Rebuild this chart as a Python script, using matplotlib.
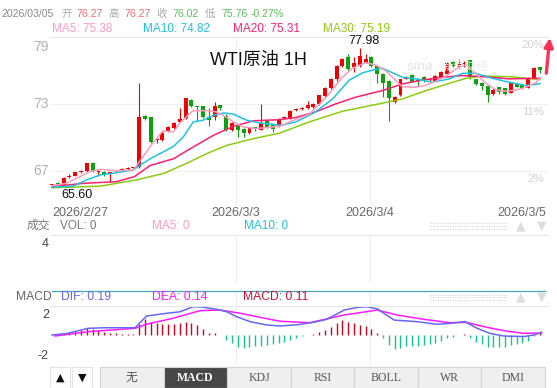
import numpy as np
import matplotlib
matplotlib.use("Agg")
import matplotlib.pyplot as plt
from matplotlib.patches import Rectangle, FancyArrowPatch
from matplotlib.lines import Line2D

W = 557
H = 388

# hourly candles, WTI 1H (open, high, low, close)
opens = [65.78, 65.90, 65.75, 66.45, 66.60, 66.92, 67.00, 67.75, 66.90, 66.95,
         66.80, 66.98, 67.10, 67.18, 67.25, 67.35, 71.95, 71.80, 69.75, 69.80,
         70.55, 70.85, 71.40, 71.75, 73.40, 72.82, 72.80, 71.80, 71.80, 72.90,
         71.90, 70.70, 71.10, 70.80, 70.40, 70.90, 70.70, 71.50, 71.10, 71.00,
         71.75, 71.70, 72.45, 72.55, 72.60, 72.70, 73.00, 73.70, 74.40, 75.20,
         76.40, 77.20, 76.30, 76.40, 76.70, 77.20, 76.40, 75.70, 75.10, 73.20,
         73.80, 75.25, 75.60, 75.15, 75.40, 75.15, 75.10, 75.40, 75.70, 76.80,
         76.30, 76.60, 76.90, 75.20, 74.90, 74.60, 73.90, 74.50, 74.40, 74.00,
         74.80, 74.70, 74.45, 75.30, 76.27]
highs = [65.85, 65.98, 66.45, 66.70, 66.95, 67.05, 67.75, 67.80, 67.05, 67.00,
         66.95, 67.08, 67.25, 67.35, 67.40, 74.90, 72.00, 71.85, 70.00, 70.60,
         71.00, 71.40, 72.60, 73.55, 73.45, 72.85, 72.85, 72.60, 73.20, 72.95,
         72.10, 71.40, 71.15, 70.85, 70.95, 70.95, 73.00, 71.55, 71.15, 71.75,
         71.90, 72.45, 72.60, 72.70, 73.30, 73.05, 73.85, 74.50, 75.30, 76.50,
         77.10, 77.50, 77.20, 77.98, 77.50, 77.30, 76.45, 75.75, 75.15, 73.70,
         75.25, 75.50, 75.70, 75.30, 75.50, 75.30, 75.60, 76.00, 76.75, 76.85,
         77.00, 76.85, 76.95, 75.25, 74.95, 74.65, 74.40, 74.55, 74.45, 74.90,
         74.85, 74.75, 75.40, 76.30, 76.27]
lows = [65.75, 65.72, 65.60, 66.35, 66.55, 66.85, 66.95, 66.95, 66.60, 66.55,
        66.05, 66.90, 67.05, 67.12, 67.20, 67.30, 71.60, 69.50, 69.50, 69.70,
        70.50, 70.80, 71.35, 71.70, 72.75, 71.50, 71.75, 71.00, 71.60, 72.50,
        70.60, 70.60, 70.05, 70.05, 70.30, 70.60, 70.65, 70.85, 70.50, 70.95,
        71.70, 71.65, 72.40, 72.50, 72.55, 72.65, 72.95, 73.65, 74.35, 75.10,
        76.35, 76.00, 75.90, 76.35, 76.65, 76.35, 74.90, 73.60, 71.50, 73.10,
        73.70, 75.20, 74.95, 74.60, 75.00, 75.10, 75.05, 75.35, 75.65, 76.35,
        76.25, 76.30, 75.20, 74.70, 74.30, 73.20, 73.85, 73.90, 73.85, 73.95,
        74.50, 74.35, 74.40, 75.25, 75.76]
closes = [65.82, 65.78, 66.35, 66.55, 66.90, 67.00, 67.70, 67.00, 66.98, 66.65,
          66.88, 67.03, 67.17, 67.25, 67.32, 71.80, 71.70, 69.60, 69.90, 70.40,
          70.90, 71.30, 71.70, 73.50, 72.80, 72.75, 71.80, 71.60, 72.80, 72.60,
          70.70, 71.30, 70.70, 70.40, 70.90, 70.72, 71.30, 70.90, 70.80, 71.70,
          71.82, 72.40, 72.52, 72.62, 72.90, 73.00, 73.80, 74.40, 75.20, 76.40,
          77.00, 76.10, 76.70, 77.30, 77.00, 76.40, 75.70, 74.90, 73.50, 73.60,
          75.20, 75.35, 75.00, 75.05, 75.10, 75.22, 75.50, 75.90, 76.70, 76.40,
          76.60, 76.70, 75.40, 74.80, 74.60, 73.80, 74.30, 74.10, 73.90, 74.85,
          74.55, 74.45, 75.35, 76.20, 76.02]

# moving average lines (candle index, price)
ma5Idx = [0, 2.5, 4.8, 6.5, 8.3, 11.1, 14, 15.7, 16.9, 18, 19.1, 20.9, 22, 23.2, 24.3,
          26.6, 28.3, 30.1, 31.2, 32.9, 35.2, 36.9, 39.2, 40.9, 44.3, 47.2, 50, 51.7,
          54, 55.7, 57.4, 59.1, 60.3, 62, 63.8, 65.5, 67.8, 70.1, 71.3, 73, 74.7, 76.5,
          78.2, 79.9, 81.6, 83.4, 84]
ma5Val = [65.7, 65.9, 66.5, 66.95, 67.15, 67.03, 67.1, 68.3, 69.2, 69.9, 70.6, 70.5,
          71.3, 71.9, 72.4, 72.4, 72.3, 71.8, 71.4, 70.95, 70.8, 70.9, 71.0, 71.4, 72.1,
          73.6, 75.4, 76.2, 76.7, 76.5, 76.0, 75.15, 74.55, 74.5, 74.6, 74.9, 75.5, 76.3,
          76.5, 75.7, 74.85, 74.25, 74.15, 74.25, 74.5, 74.95, 75.38]
ma10Idx = [0, 3.6, 5.9, 8.3, 11.1, 14, 15.1, 16.9, 19.1, 20.9, 22.6, 24.3, 26, 27.8,
           29.6, 31.2, 33.5, 35.8, 39.5, 42, 45.4, 48.3, 51.2, 53.5, 55.7, 56.9, 58.6,
           60.3, 62.6, 65.5, 68.4, 70.7, 73, 75.8, 78.7, 81.6, 84]
ma10Val = [65.55, 65.65, 66.2, 66.65, 66.85, 67.1, 67.5, 68.1, 68.7, 69.2, 70.05, 71.4,
           71.55, 72.0, 72.2, 72.1, 71.55, 71.3, 71.1, 71.4, 72.3, 73.45, 75.15, 75.8,
           76.1, 76.2, 75.8, 75.4, 75.25, 74.95, 75.25, 75.75, 75.75, 75.3, 74.95, 74.65,
           74.82]
ma20Idx = [0, 5.4, 11.1, 14.2, 16.9, 20.9, 24.3, 27.8, 31.2, 34.7, 39.2, 42, 45.4, 48.8,
           52.2, 54.5, 56.9, 60.3, 63.8, 67.3, 70.7, 74.2, 78.7, 84]
ma20Val = [65.6, 65.9, 66.05, 66.5, 67.5, 68.1, 69.15, 70.2, 71.0, 71.5, 71.6, 71.8, 72.3,
           73.0, 73.6, 73.9, 74.2, 74.8, 75.15, 75.4, 75.55, 75.45, 75.25, 75.31]
ma30Idx = [0, 8.3, 14.5, 19.3, 23.2, 26.6, 30.1, 34.7, 39.2, 44.3, 50, 55.7, 60.3, 64.4,
           68.4, 71.3, 74.2, 78.7, 84]
ma30Val = [65.5, 65.65, 66.2, 66.8, 67.7, 68.55, 69.3, 69.9, 70.4, 71.4, 72.35, 72.95,
           73.45, 74.2, 74.85, 75.3, 75.5, 75.45, 75.19]

# MACD panel
macdHist = [0.02, 0.05, 0.11, 0.18, 0.30, 0.34, 0.46, 0.39, 0.34, 0.23,
            0.16, 0.11, 0.07, 0.07, 0.07, 0.76, 1.10, 0.92, 0.80, 0.74,
            0.74, 0.74, 0.80, 0.87, 0.85, 0.69, 0.39, 0.16, 0.11, 0.02,
            -0.34, -0.57, -0.80, -0.87, -0.80, -0.76, -0.76, -0.69, -0.65, -0.57,
            -0.46, -0.34, -0.18, -0.07, 0.02, 0.07, 0.18, 0.34, 0.57, 0.85,
            1.03, 0.92, 0.80, 0.69, 0.64, 0.39, 0.11, -0.23, -0.69, -0.99,
            -0.87, -0.76, -0.76, -0.76, -0.71, -0.64, -0.53, -0.41, -0.23, -0.11,
            -0.02, 0.07, -0.23, -0.46, -0.62, -0.80, -0.85, -0.85, -0.80, -0.69,
            -0.62, -0.57, -0.39, -0.05, 0.11]
difIdx = [0, 2.6, 6.2, 9, 14.3, 15.5, 16.3, 19.8, 22, 24.3, 26, 28.4, 30.1, 31.8, 34.1,
          37, 39.2, 42, 45, 47.3, 50.3, 52.5, 54.2, 56, 58.9, 62.8, 66.3, 68.5, 71.1,
          73.2, 75.4, 77.8, 81.2, 83, 84.3]
difVal = [0.0, 0.11, 0.46, 0.5, 0.5, 1.0, 1.31, 1.5, 1.6, 1.95, 1.92, 1.77, 1.6, 1.26,
          0.92, 0.69, 0.62, 0.7, 0.87, 1.08, 1.72, 1.9, 1.95, 1.8, 1.03, 0.92, 0.74, 0.8,
          0.92, 0.46, 0.11, -0.07, -0.11, 0.0, 0.19]
deaIdx = [0.5, 6.2, 14.3, 16.3, 20.8, 25.5, 28.9, 32.4, 35.8, 39.2, 44.4, 50.3, 56, 59.4,
          64, 68.5, 71.4, 74.4, 77.8, 81.2, 84.3]
deaVal = [-0.07, 0.23, 0.46, 0.75, 1.15, 1.68, 1.72, 1.5, 1.22, 0.95, 0.85, 1.38, 1.72,
          1.38, 1.08, 0.85, 0.87, 0.57, 0.3, 0.11, 0.14]

dateLabels = ['2026/2/27', '2026/3/3', '2026/3/4', '2026/3/5']
dateIdx = [0, 31.7, 54.7, 85.0]
priceTicks = [79, 73, 67]
pctLabels = ['20%', '11%', '2%']
tabNames = ['无', 'MACD', 'KDJ', 'RSI', 'BOLL', 'WR', 'DMI']

RED = '#f00000'
GREEN = '#0ba20b'
C_MA5 = '#ff9bbb'
C_MA10 = '#1ec3e2'
C_MA20 = '#ff1f70'
C_MA30 = '#8dcc12'


def fx(x):
  return x / W


def fy(y):
  return 1 - y / H


def axRect(left, top, right, bottom):
  return [fx(left), fy(bottom), (right - left) / W, (bottom - top) / H]


def put(fig, x, y, s, color, size, **kw):
  kw.setdefault('va', 'center')
  fig.text(fx(x), fy(y), s, color=color, fontsize=size, **kw)


def hline(fig, x0, x1, y, color, lw=0.8, ls='-'):
  fig.add_artist(Line2D([fx(x0), fx(x1)], [fy(y), fy(y)], color=color, lw=lw, ls=ls,
                        transform=fig.transFigure))


def main():
  plt.rcParams['font.family'] = ['Liberation Sans', 'Noto Sans CJK SC', 'DejaVu Sans']
  fig = plt.figure(figsize=(W / 100, H / 100), dpi=100)
  fig.patch.set_facecolor('white')

  x = np.arange(len(closes))
  o = np.array(opens)
  c = np.array(closes)
  cols = [RED if c[i] >= o[i] else GREEN for i in range(len(c))]
  xlim = (-0.35, 85.4)

  # ---- price panel
  ax = fig.add_axes(axRect(50, 37, 548, 205))
  ax.set_xlim(*xlim)
  ax.set_ylim(63.96, 79)
  for s in ['left', 'right', 'bottom']:
    ax.spines[s].set_visible(False)
  ax.spines['top'].set_color('#e6e6e6')
  ax.spines['top'].set_linewidth(0.8)
  ax.set_xticks([])
  ax.set_yticks([])
  for p in priceTicks[1:]:
    ax.axhline(p, color='#f0f0f0', lw=0.8, zorder=0)
  for d in dateIdx[1:3]:
    ax.axvline(d, color='#eeeeee', lw=0.8, zorder=0)

  ax.vlines(x, lows, highs, colors=cols, lw=0.8, zorder=2)
  body = np.maximum(np.abs(c - o), 0.09)
  ax.bar(x, body, bottom=np.minimum(o, c), width=0.68, color=cols, lw=0, zorder=3)

  ax.plot(ma30Idx, ma30Val, color=C_MA30, lw=1.1, zorder=4)
  ax.plot(ma20Idx, ma20Val, color=C_MA20, lw=1.1, zorder=4)
  ax.plot(ma10Idx, ma10Val, color=C_MA10, lw=1.1, zorder=4)
  ax.plot(ma5Idx, ma5Val, color=C_MA5, lw=1.1, zorder=4)

  for p, lab in zip(priceTicks, pctLabels):
    va = 'top' if p == priceTicks[0] else 'center'
    ax.annotate(str(p), xy=(0, p), xycoords=('axes fraction', 'data'), xytext=(-1, -3 if va == 'top' else 0),
                textcoords='offset pixels', ha='right', va=va, color='#b0b0b0', fontsize=10)
    ax.annotate(lab, xy=(1, p), xycoords=('axes fraction', 'data'), xytext=(-4, -3),
                textcoords='offset pixels', ha='right', va='top', color='#d2d2d2', fontsize=8.2)

  lowI = int(np.argmin(lows))
  highI = int(np.argmax(highs))
  ax.annotate('%.2f' % lows[lowI], xy=(lowI, lows[lowI]), xytext=(-2, -2), textcoords='offset pixels',
              ha='left', va='top', fontsize=9, color='#111111')
  ax.annotate('%.2f' % highs[highI], xy=(highI, highs[highI]), xytext=(4, 1), textcoords='offset pixels',
              ha='center', va='bottom', fontsize=9, color='#111111', annotation_clip=False)

  has = ['left', 'center', 'center', 'right']
  for d, lab, ha in zip(dateIdx, dateLabels, has):
    ax.annotate(lab, xy=(d, 0), xycoords=('data', 'axes fraction'), xytext=(0, -8),
                textcoords='offset pixels', ha=ha, va='center', fontsize=9, color='#666666',
                annotation_clip=False)

  # watermark + title
  put(fig, 407, 67, 'sina', '#e9e9e9', 9.5, fontweight='bold', style='italic')
  put(fig, 442, 67, '新浪财经', '#ececec', 8.5)
  put(fig, 258, 60, 'WTI原油 1H', '#111111', 13, ha='center')

  # ---- volume panel
  axv = fig.add_axes(axRect(50, 235, 548, 283))
  axv.set_xlim(*xlim)
  axv.set_ylim(0, 4)
  for s in ['left', 'right', 'bottom']:
    axv.spines[s].set_visible(False)
  axv.spines['top'].set_color('#e6e6e6')
  axv.set_xticks([])
  axv.set_yticks([])
  for d in dateIdx[1:3]:
    axv.axvline(d, color='#eeeeee', lw=0.8)
  axv.annotate('4', xy=(0, 4), xycoords=('axes fraction', 'data'), xytext=(-1, -3),
               textcoords='offset pixels', ha='right', va='top', fontsize=9, color='#444444')

  # ---- MACD panel
  axm = fig.add_axes(axRect(50, 306, 548, 364))
  axm.set_xlim(*xlim)
  axm.set_ylim(-2, 2)
  for s in ['left', 'right', 'bottom']:
    axm.spines[s].set_visible(False)
  axm.spines['top'].set_color('#e6e6e6')
  axm.set_xticks([])
  axm.set_yticks([])
  for d in dateIdx[1:3]:
    axm.axvline(d, color='#eeeeee', lw=0.8, ymax=1.25, clip_on=False)
  h = np.array(macdHist)
  hcols = ['#d0021b' if v >= 0 else '#17c38d' for v in h]
  axm.vlines(x, 0, h, colors=hcols, lw=1.0)
  axm.plot(deaIdx, deaVal, color='#ff1aff', lw=1.1)
  axm.plot(difIdx, difVal, color='#6767f2', lw=1.1)
  axm.annotate('2', xy=(0, 2), xycoords=('axes fraction', 'data'), xytext=(-1, -3),
               textcoords='offset pixels', ha='right', va='top', fontsize=9, color='#444444')
  axm.annotate('-2', xy=(0, -2), xycoords=('axes fraction', 'data'), xytext=(-1, 2),
               textcoords='offset pixels', ha='right', va='bottom', fontsize=9, color='#444444',
               annotation_clip=False)

  # ---- header texts
  y1 = 14
  put(fig, 2, y1, '2026/03/05', '#8a8a8a', 7.6)
  put(fig, 61, y1, '开', '#aaaaaa', 7.6)
  put(fig, 76, y1, '76.27', '#f26b6b', 7.6)
  put(fig, 108, y1, '高', '#aaaaaa', 7.6)
  put(fig, 124, y1, '76.27', '#f26b6b', 7.6)
  put(fig, 156, y1, '收', '#aaaaaa', 7.6)
  put(fig, 172, y1, '76.02', '#5cbf5c', 7.6)
  put(fig, 205, y1, '低', '#aaaaaa', 7.6)
  put(fig, 221, y1, '75.76', '#5cbf5c', 7.6)
  put(fig, 251, y1, '-0.27%', '#5cbf5c', 7.6)

  y2 = 29.5
  put(fig, 52, y2, 'MA5: 75.38', C_MA5, 8.5)
  put(fig, 143, y2, 'MA10: 74.82', C_MA10, 8.5)
  put(fig, 233, y2, 'MA20: 75.31', C_MA20, 8.5)
  put(fig, 323, y2, 'MA30: 75.19', C_MA30, 8.5)

  y3 = 226
  put(fig, 27, y3, '成交', '#777777', 8.5)
  put(fig, 60, y3, 'VOL: 0', '#777777', 8.5)
  put(fig, 152, y3, 'MA5: 0', C_MA5, 8.5)
  put(fig, 244, y3, 'MA10: 0', C_MA10, 8.5)

  hline(fig, 52, 545, 291, '#45aab8', lw=0.9)
  y4 = 297
  put(fig, 16, y4, 'MACD', '#666666', 8.7)
  put(fig, 61, y4, 'DIF: 0.19', '#6767f2', 8.7)
  put(fig, 152, y4, 'DEA: 0.14', '#ff1aff', 8.7)
  put(fig, 243, y4, 'MACD: 0.11', '#cc1133', 8.7)

  # grips and small arrows in panel headers
  for yy in (y3, y4):
    for k in (-2.5, 0, 2.5):
      hline(fig, 430, 507, yy + k, '#d6d6d6', lw=0.8, ls=(0, (1, 1.2)))
    put(fig, 521, yy, '▲', '#dddddd', 9, ha='center', family='DejaVu Sans')
    put(fig, 542, yy, '▼', '#dddddd', 9, ha='center', family='DejaVu Sans')

  # ---- bottom tab bar
  for bx, sym in ((50, '▲'), (72, '▼')):
    fig.add_artist(Rectangle((fx(bx), fy(388)), 20 / W, 21 / H, transform=fig.transFigure,
                             facecolor='white', edgecolor='#e4e4e4', lw=0.8))
    put(fig, bx + 10, 378, sym, '#111111', 8, ha='center', family='DejaVu Sans')
  tabW = (545 - 100) / len(tabNames)
  for k, name in enumerate(tabNames):
    left = 100 + k * tabW
    sel = name == 'MACD'
    fig.add_artist(Rectangle((fx(left), fy(388)), tabW / W, 21 / H, transform=fig.transFigure,
                             facecolor='#474747' if sel else '#efefef', edgecolor='#d2d2d2', lw=0.8))
    put(fig, left + tabW / 2, 378, name, 'white' if sel else '#555555', 8.5, ha='center',
        family=['Liberation Serif', 'Noto Sans CJK SC'], fontweight='bold' if sel else 'normal')

  # red arrow on the right
  fig.add_artist(FancyArrowPatch((fx(546), fy(76)), (fx(550), fy(35)), transform=fig.transFigure,
                                 arrowstyle='-|>', mutation_scale=13, color='#ff3358', lw=2.4))

  fig.savefig('out.png', dpi=100)


main()
